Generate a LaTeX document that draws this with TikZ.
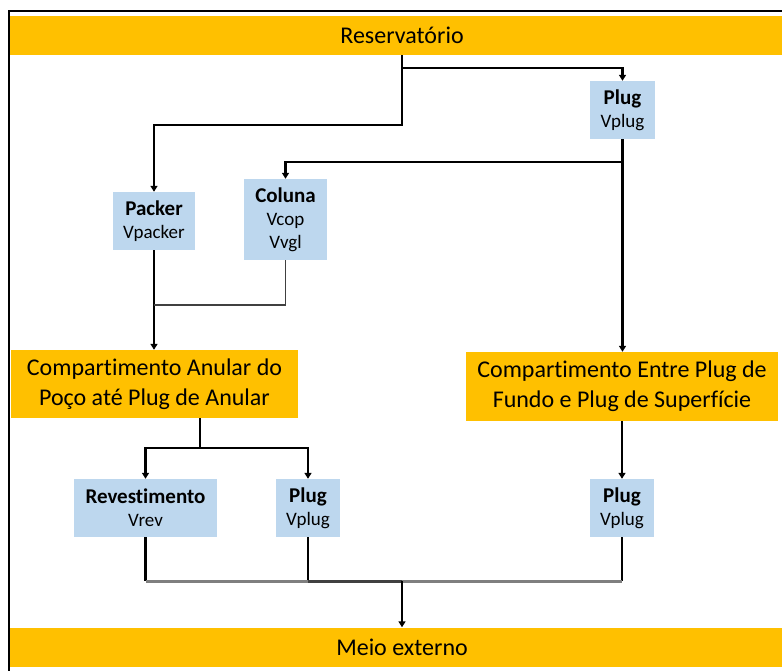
\documentclass[tikz,border=0pt]{standalone}
\usepackage{fontspec}
\setmainfont{Carlito}[Ligatures=NoCommon]
\usetikzlibrary{positioning, arrows.meta, calc}
\definecolor{barorange}{HTML}{FFC000}
\definecolor{boxblue}{HTML}{BDD7EE}
\definecolor{linegray}{HTML}{7F7F7F}
\definecolor{linedark}{HTML}{404040}
\newcommand{\boxhead}[1]{{\fontsize{21}{23}\selectfont\bfseries #1}}

\begin{document}
\begin{tikzpicture}[
    x=1pt, y=-1pt,
    >={Triangle[width=7pt,length=6pt]},
    bar/.style={
        fill=barorange, inner sep=0pt,
        minimum width=784pt, minimum height=39pt,
        font=\fontsize{24}{28}\selectfont,
    },
    compart/.style={
        fill=barorange, inner sep=0pt, align=center,
        minimum height=68pt,
        font=\fontsize{24}{30}\selectfont,
    },
    varbox/.style={
        fill=boxblue, inner sep=0pt, align=center,
        minimum height=58pt,
        font=\fontsize{19}{23}\selectfont,
    },
    flow/.style={
        ->, line width=2.2pt,
    },
    joinline/.style={
        line width=2.2pt,
    },
]
\useasboundingbox (0,0) rectangle (782,671);

% Frame
\draw[line width=2pt] (9,680) -- (9,11) -- (790,11);

% Top and bottom bars
\node[bar] (res) at (402,35.5) {Reservatório};
\node[bar] (meio) at (402,647) {Meio externo};

% Variable boxes (upper part)
\node[varbox, minimum width=65pt] (plugT) at (622.5,110) {\boxhead{Plug}\\Vplug};
\node[varbox, minimum width=82pt] (packer) at (154,221) {\boxhead{Packer}\\Vpacker};
\node[varbox, minimum width=83pt, minimum height=81pt] (coluna) at (285.5,219.5)
    {\boxhead{Coluna}\\Vcop\\Vvgl};

% Compartments
\node[compart, minimum width=287pt] (anular) at (154.5,384)
    {Compartimento Anular do\\Poço até Plug de Anular};
\node[compart, minimum width=312pt, minimum height=69pt] (entre) at (622,386.5)
    {Compartimento Entre Plug de\\Fundo e Plug de Superfície};

% Variable boxes (lower part)
\node[varbox, minimum width=143pt] (rev) at (145.5,508) {\boxhead{Revestimento}\\Vrev};
\node[varbox, minimum width=64pt] (plugM) at (308,508) {\boxhead{Plug}\\Vplug};
\node[varbox, minimum width=64pt] (plugR) at (622,508) {\boxhead{Plug}\\Vplug};

% Junction points
\coordinate (joinA) at ($(packer.south)+(0,55)$);
\coordinate (splitA) at ($(anular.south)+(45.5,30)$);
\coordinate (joinB) at ($(meio.north)+(0,-46)$);

% Reservoir outflows
\draw[flow] (res.south) -- ++(0,70) -| (packer.north);
\draw[flow] ($(res.south)+(0,13)$) -| (plugT.north);

% Top plug outflows
\draw[flow] (plugT.south) -- ++(0,23) -| (coluna.north);
\draw[flow] (plugT.south) -- (plugT.south |- entre.north);

% Packer and column into the annulus
\draw[flow] (packer.south) -- (packer.south |- anular.north);
\draw[joinline, line width=1.8pt, linedark] (coluna.south) |- (joinA);

% Annulus outflows
\draw[joinline] ($(anular.south)+(45.5,0)$) -- (splitA);
\draw[flow] (splitA) -| (rev.north);
\draw[flow] (splitA) -| (plugM.north);
\draw[flow] (entre.south -| plugR.north) -- (plugR.north);

% Into the external medium
\draw[joinline] (rev.south) -- (rev.south |- joinB);
\draw[joinline] (plugM.south) -- (plugM.south |- joinB);
\draw[joinline] (plugR.south) -- (plugR.south |- joinB);
\draw[joinline, line width=2.6pt, linegray] (rev.south |- joinB) -- (plugR.south |- joinB);
\draw[joinline, line width=2.6pt, linedark] (plugM.south |- joinB) -- (joinB);
\draw[flow, line width=1.8pt] (joinB) -- (meio.north);

\end{tikzpicture}
\end{document}
